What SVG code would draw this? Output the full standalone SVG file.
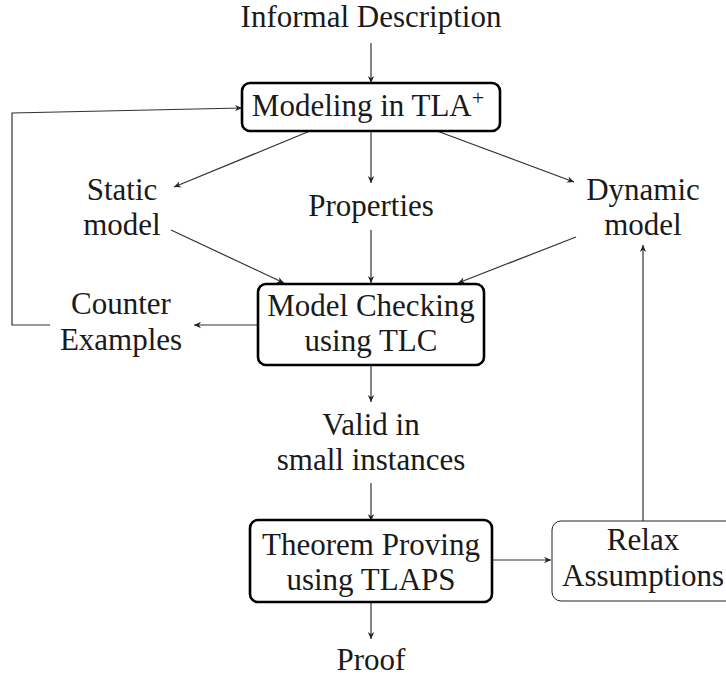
<svg xmlns="http://www.w3.org/2000/svg" width="726" height="677" viewBox="0 0 726 677">
<defs>
<marker id="arr" viewBox="-8 -4 9 8" refX="0" refY="0" markerWidth="9" markerHeight="8" markerUnits="userSpaceOnUse" orient="auto">
<path d="M0,0 L-7,-3.2 L-4.8,0 L-7,3.2 Z" fill="#222"/>
</marker>
</defs>
<style>
text{font-family:'Liberation Serif','DejaVu Serif',serif;font-size:31px;fill:#1a1a1a;text-anchor:middle}
.box{fill:#fff;stroke:#000;stroke-width:2.6}
.thin{fill:#fff;stroke:#222;stroke-width:1}
.c{fill:none;stroke:#333;stroke-width:1.2}
.a{marker-end:url(#arr)}
</style>
<g id="connectors">
<line class="c a" x1="371" y1="43" x2="371" y2="83"/>
<line class="c a" x1="310" y1="131" x2="174" y2="187"/>
<line class="c a" x1="371" y1="131" x2="371" y2="183"/>
<line class="c a" x1="437" y1="131" x2="574" y2="182"/>
<line class="c a" x1="171" y1="230" x2="284" y2="283"/>
<line class="c a" x1="371" y1="230" x2="371" y2="283"/>
<line class="c a" x1="576" y1="237" x2="458" y2="283"/>
<line class="c a" x1="258" y1="325" x2="194" y2="325"/>
<polyline class="c a" points="50,325 12,325 12,113 242,108"/>
<line class="c a" x1="371" y1="366" x2="371" y2="402"/>
<line class="c a" x1="371" y1="483" x2="371" y2="521"/>
<line class="c a" x1="492" y1="560" x2="551" y2="560"/>
<line class="c a" x1="643" y1="521" x2="643" y2="245"/>
<line class="c a" x1="371" y1="603" x2="371" y2="639"/>
</g>
<g id="informal"><text x="371" y="27">Informal Description</text></g>
<g id="modeling">
<rect class="box" x="242" y="83" width="258" height="48" rx="8"/>
<text x="368" y="116">Modeling in TLA<tspan font-size="22" dy="-11">+</tspan></text>
</g>
<g id="static"><text x="122" y="200">Static</text><text x="122" y="235">model</text></g>
<g id="properties"><text x="371" y="216">Properties</text></g>
<g id="dynamic"><text x="643" y="200">Dynamic</text><text x="643" y="235">model</text></g>
<g id="modelchecking">
<rect class="box" x="258" y="284" width="226" height="81" rx="8"/>
<text x="371" y="316">Model Checking</text>
<text x="371" y="351">using TLC</text>
</g>
<g id="counter"><text x="121" y="314">Counter</text><text x="121" y="350">Examples</text></g>
<g id="valid"><text x="371" y="435">Valid in</text><text x="371" y="470">small instances</text></g>
<g id="theorem">
<rect class="box" x="250" y="520" width="242" height="82" rx="8"/>
<text x="371" y="555">Theorem Proving</text>
<text x="371" y="590">using TLAPS</text>
</g>
<g id="relax">
<rect class="thin" x="552" y="521" width="190" height="80" rx="9"/>
<text x="643" y="550">Relax</text>
<text x="643" y="586">Assumptions</text>
</g>
<g id="proof"><text x="371" y="670">Proof</text></g>
</svg>
